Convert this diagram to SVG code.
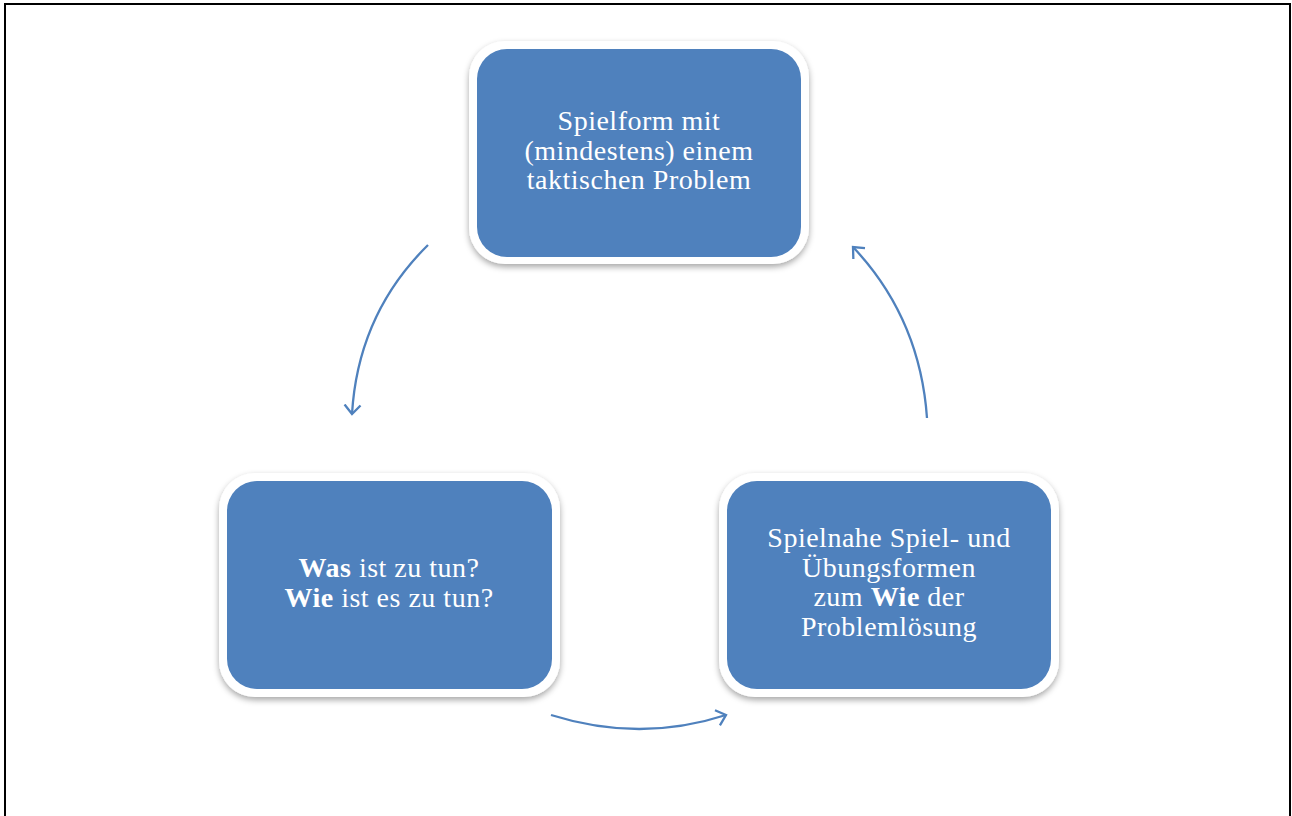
<svg xmlns="http://www.w3.org/2000/svg" width="1292" height="816" viewBox="0 0 1292 816">
<style>
.frame{fill:#fff;stroke:#000;stroke-width:2}
.outer{fill:#fff;filter:url(#sh)}
.box{fill:#4F81BD}
.t{font-family:"Liberation Serif","Times New Roman",serif;font-size:28px;letter-spacing:0.5px;fill:#fff;text-anchor:middle}
.b{font-weight:bold}
.arr{fill:none;stroke:#4F81BD;stroke-width:2.3;marker-end:url(#ah)}
</style>
<defs>
<filter id="sh" x="-10%" y="-10%" width="120%" height="125%">
<feDropShadow dx="0" dy="3" stdDeviation="3" flood-color="#000" flood-opacity="0.35"/>
</filter>
<marker id="ah" viewBox="0 0 20 20" refX="10" refY="10" markerWidth="20" markerHeight="20" markerUnits="userSpaceOnUse" orient="auto">
<path d="M1,2 L10,10 L1,18" fill="none" stroke="#4F81BD" stroke-width="2.3"/>
</marker>
</defs>
<rect class="frame" x="5" y="4" width="1285" height="830"/>
<g id="connectors">
<path class="arr" d="M428,245 Q358,314 352,414"/>
<path class="arr" d="M551,715 Q640,743 726,715"/>
<path class="arr" d="M927,418 Q920,318 853,247"/>
</g>
<g id="node-top">
<rect class="outer" x="469" y="41" width="340" height="223" rx="36"/>
<rect class="box" x="477" y="49" width="324" height="208" rx="30"/>
<text class="t"><tspan x="639" y="130">Spielform mit</tspan><tspan x="639" y="160">(mindestens) einem</tspan><tspan x="639" y="189">taktischen Problem</tspan></text>
</g>
<g id="node-left">
<rect class="outer" x="219" y="473" width="341" height="224" rx="36"/>
<rect class="box" x="227" y="481" width="325" height="208" rx="30"/>
<text class="t"><tspan x="389" y="577"><tspan class="b">Was</tspan> ist zu tun?</tspan><tspan x="389" y="607"><tspan class="b">Wie</tspan> ist es zu tun?</tspan></text>
</g>
<g id="node-right">
<rect class="outer" x="719" y="473" width="340" height="224" rx="36"/>
<rect class="box" x="727" y="481" width="324" height="208" rx="30"/>
<text class="t"><tspan x="889" y="547">Spielnahe Spiel- und</tspan><tspan x="889" y="577">Übungsformen</tspan><tspan x="889" y="606">zum <tspan class="b">Wie</tspan> der</tspan><tspan x="889" y="636">Problemlösung</tspan></text>
</g>
</svg>
